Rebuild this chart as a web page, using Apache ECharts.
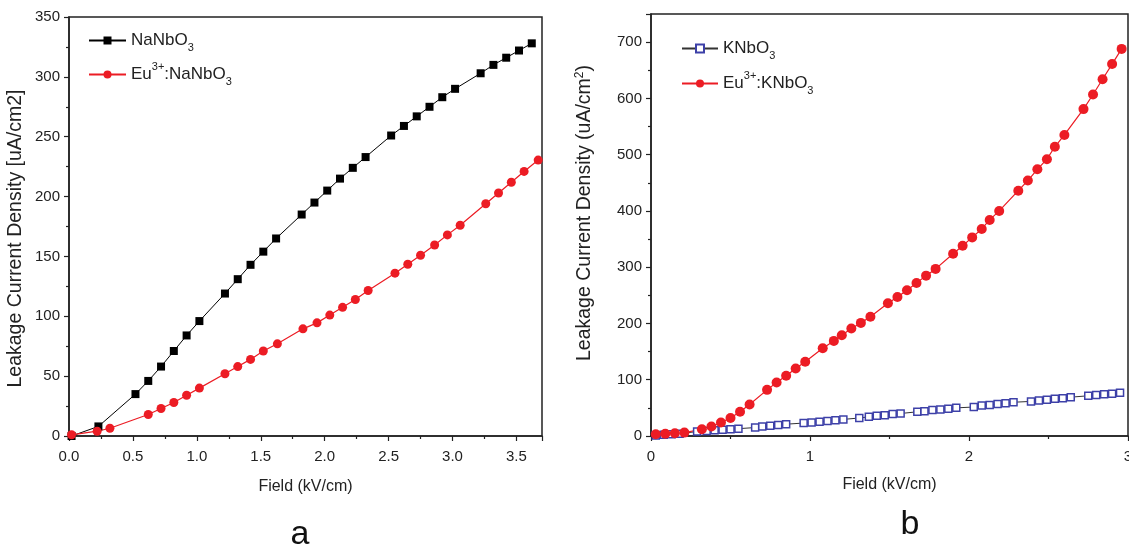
<!DOCTYPE html>
<html>
<head>
<meta charset="utf-8">
<script src="https://cdn.jsdelivr.net/npm/echarts@6/dist/echarts.min.js"></script>
<style>
html,body{margin:0;padding:0;background:#fff;}
#chart{width:1129px;height:550px;}
</style>
</head>
<body>
<div id="chart"></div>
<script>
// ---- Panel a data (Field kV/cm vs Leakage current density uA/cm2) ----
const naField = [0.02,0.23,0.52,0.62,0.72,0.82,0.92,1.02,1.22,1.32,1.42,1.52,1.62,1.82,1.92,2.02,2.12,2.22,2.32,2.52,2.62,2.72,2.82,2.92,3.02,3.22,3.32,3.42,3.52,3.62];
const naJ = [0,8,35,46,58,71,84,96,119,131,143,154,165,185,195,205,215,224,233,251,259,267,275,283,290,303,310,316,322,328];
const euNaField = [0.02,0.22,0.32,0.62,0.72,0.82,0.92,1.02,1.22,1.32,1.42,1.52,1.63,1.83,1.94,2.04,2.14,2.24,2.34,2.55,2.65,2.75,2.86,2.96,3.06,3.26,3.36,3.46,3.56,3.67];
const euNaJ = [1,4,6.5,18,23,28,34,40,52,58,64,71,77,89.5,94.5,101,107.5,114,121.5,136,143.5,151,159.5,168,176,194,203,212,221,230.5];

// ---- Panel b data ----
const kField = [0.03,0.08,0.13,0.18,0.29,0.35,0.40,0.45,0.50,0.55,0.655,0.70,0.75,0.80,0.85,0.96,1.01,1.06,1.11,1.16,1.21,1.31,1.37,1.42,1.47,1.52,1.57,1.675,1.72,1.77,1.82,1.87,1.92,2.03,2.08,2.13,2.18,2.23,2.28,2.39,2.44,2.49,2.54,2.59,2.64,2.75,2.80,2.85,2.90,2.95];
const kJ = [1,2,3,4,8,9,10,11,12,13,15,17,18,19.5,21,23,24,25.5,26.5,28,29.5,32,34,36,37,39,40,43,44,46,47,48.5,50,51.5,54,55,57,58,60,61.5,63,64.5,66,67,69,71.5,73,74,75,77];
const euKField = [0.03,0.09,0.15,0.21,0.32,0.38,0.44,0.50,0.56,0.62,0.73,0.79,0.85,0.91,0.97,1.08,1.15,1.20,1.26,1.32,1.38,1.49,1.55,1.61,1.67,1.73,1.79,1.90,1.96,2.02,2.08,2.13,2.19,2.31,2.37,2.43,2.49,2.54,2.60,2.72,2.78,2.84,2.90,2.96];
const euKJ = [3,4,5,6,12,17,24,32,43,56,82,95,107,120,132,156,169,179,191,201,212,236,247,259,272,285,297,324,338,353,368,384,400,436,454,474,492,514,535,581,607,634,661,688];

// ---- Labels ----
const seriesNames = ['NaNbO3','Eu3+:NaNbO3','KNbO3','Eu3+:KNbO3'];
const legendRich = {
  'NaNbO3': '{t|NaNbO}{sub|3}',
  'Eu3+:NaNbO3': '{t|Eu}{sup|3+}{t|:NaNbO}{sub|3}',
  'KNbO3': '{t|KNbO}{sub|3}',
  'Eu3+:KNbO3': '{t|Eu}{sup|3+}{t|:KNbO}{sub|3}'
};
const xTitle = 'Field (kV/cm)';
const yTitleA = 'Leakage Current Density [uA/cm2]';
const yTitleB = '{t|Leakage Current Density (uA/cm}{sup|2}{t|)}';
const panelLabels = ['a','b'];

const FONT = 'Liberation Sans, Arial, sans-serif';
const zip = (xs, ys) => xs.map((x, i) => [x, ys[i]]);

const richStyles = {
  t: {fontSize: 17, color: '#222', fontFamily: FONT, lineHeight: 26, verticalAlign: 'middle'},
  sub: {fontSize: 11, color: '#222', fontFamily: FONT, lineHeight: 12, verticalAlign: 'bottom'},
  sup: {fontSize: 11, color: '#222', fontFamily: FONT, lineHeight: 12, verticalAlign: 'top'}
};
const yRich = {
  t: {fontSize: 19.5, color: '#222', fontFamily: FONT, lineHeight: 21, padding: [4,0,0,0], verticalAlign: 'bottom'},
  sup: {fontSize: 12, color: '#222', fontFamily: FONT, lineHeight: 12, verticalAlign: 'top'}
};

const axisLineStyle = {color: '#222', width: 1.5};

function xAxisDef(grid, max, interval, fmt, gap) {
  return {
    gridIndex: grid, type: 'value', min: 0, max: max, interval: interval,
    axisLine: {show: true, onZero: false, lineStyle: axisLineStyle},
    axisTick: {show: true, inside: false, length: 5, lineStyle: {color: '#222', width: 1.2}},
    minorTick: {show: true, splitNumber: 2, length: 3, lineStyle: {color: '#222', width: 1.2}},
    splitLine: {show: false},
    axisLabel: {show: true, formatter: fmt, fontSize: 15, color: '#222', fontFamily: FONT, margin: 13, showMaxLabel: max % interval === 0 ? true : false},
    name: xTitle, nameLocation: 'middle', nameGap: gap,
    nameTextStyle: {fontSize: 16, color: '#222', fontFamily: FONT}
  };
}
function yAxisDef(grid, max, interval, name, gap, rich, showMax, pad) {
  return {
    gridIndex: grid, type: 'value', min: 0, max: max, interval: interval,
    axisLine: {show: true, onZero: false, lineStyle: axisLineStyle},
    axisTick: {show: true, inside: false, length: 5, lineStyle: {color: '#222', width: 1.2}},
    minorTick: {show: true, splitNumber: 2, length: 3, lineStyle: {color: '#222', width: 1.2}},
    splitLine: {show: false},
    axisLabel: {show: true, fontSize: 15, color: '#222', fontFamily: FONT, margin: 9, showMaxLabel: showMax},
    name: name, nameLocation: 'middle', nameGap: gap,
    nameTextStyle: Object.assign({fontSize: 19.5, color: '#222', fontFamily: FONT, padding: pad}, rich ? {rich: rich} : {})
  };
}

const option = {
  animation: false,
  backgroundColor: '#fff',
  textStyle: {fontFamily: FONT},
  grid: [
    {left: 69, top: 17, width: 473, height: 419, show: true, borderColor: '#222', borderWidth: 1.5, backgroundColor: 'transparent', outerBoundsMode: 'none', containLabel: false},
    {left: 651, top: 14, width: 477, height: 422, show: true, borderColor: '#222', borderWidth: 1.5, backgroundColor: 'transparent', outerBoundsMode: 'none', containLabel: false}
  ],
  xAxis: [
    xAxisDef(0, 3.7, 0.5, v => v.toFixed(1), 43),
    xAxisDef(1, 3, 1, v => String(v), 41)
  ],
  yAxis: [
    yAxisDef(0, 350, 50, yTitleA, 43, null, true, [0, 24, 0, 0]),
    yAxisDef(1, 750, 100, yTitleB, 56, yRich, false, [0, 0, 0, 24])
  ],
  legend: [
    {
      data: [seriesNames[0], seriesNames[1]], left: 88, top: 32, orient: 'vertical',
      padding: 0, itemWidth: 37, itemHeight: 10, itemGap: 8,
      formatter: n => legendRich[n],
      textStyle: {rich: richStyles}
    },
    {
      data: [seriesNames[2], seriesNames[3]], left: 681, top: 40, orient: 'vertical',
      padding: 0, itemWidth: 36, itemHeight: 10, itemGap: 9,
      formatter: n => legendRich[n],
      textStyle: {rich: richStyles}
    }
  ],
  series: [
    {
      name: seriesNames[0], type: 'line', xAxisIndex: 0, yAxisIndex: 0,
      data: zip(naField, naJ), symbol: 'rect', symbolSize: 8,
      itemStyle: {color: '#000'}, lineStyle: {color: '#000', width: 1}
    },
    {
      name: seriesNames[1], type: 'line', xAxisIndex: 0, yAxisIndex: 0,
      data: zip(euNaField, euNaJ), symbol: 'circle', symbolSize: 9,
      itemStyle: {color: '#ec1c24'}, lineStyle: {color: '#ec1c24', width: 1.2}
    },
    {
      name: seriesNames[2], type: 'line', xAxisIndex: 1, yAxisIndex: 1,
      data: zip(kField, kJ), symbol: 'rect', symbolSize: 7,
      itemStyle: {color: '#ffffff', borderColor: '#3d40a8', borderWidth: 1.5},
      lineStyle: {color: '#333', width: 1}
    },
    {
      name: seriesNames[3], type: 'line', xAxisIndex: 1, yAxisIndex: 1,
      data: zip(euKField, euKJ), symbol: 'circle', symbolSize: 10,
      itemStyle: {color: '#ec1c24'}, lineStyle: {color: '#ec1c24', width: 1.2}
    }
  ],
  graphic: [
    {type: 'text', style: {text: panelLabels[0], x: 300, y: 535, font: '34px ' + FONT, fill: '#111', textAlign: 'center', textVerticalAlign: 'middle', verticalAlign: 'middle'}},
    {type: 'text', style: {text: panelLabels[1], x: 910, y: 525, font: '34px ' + FONT, fill: '#111', textAlign: 'center', textVerticalAlign: 'middle', verticalAlign: 'middle'}}
  ]
};

const chart = echarts.init(document.getElementById('chart'), null, {renderer: 'canvas'});
chart.setOption(option);
</script>
</body>
</html>
